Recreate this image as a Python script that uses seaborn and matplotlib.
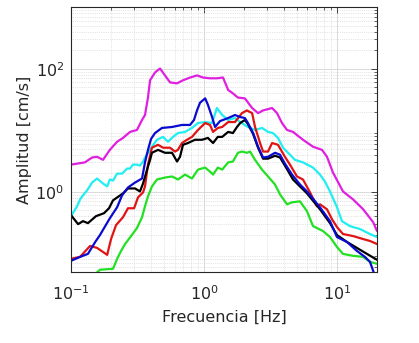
import numpy as np
import pandas as pd
import matplotlib
matplotlib.use("Agg")
import matplotlib.pyplot as plt
import seaborn as sns
from matplotlib.ticker import LogLocator, NullFormatter

# ---- data (frequency [Hz], amplitude [cm/s]) ----
mag_f = [0.100, 0.127, 0.144, 0.157, 0.174, 0.196, 0.222, 0.246, 0.278, 0.313, 0.342, 0.360,
         0.379, 0.393, 0.428, 0.467, 0.509, 0.555, 0.627, 0.695, 0.785, 0.886, 0.983, 1.11,
         1.25, 1.39, 1.52, 1.62, 1.80, 2.03, 2.30, 2.55, 2.78, 3.25, 3.54, 3.86, 4.21, 4.67,
         5.55, 6.60, 7.71, 8.41, 9.33, 11.1, 13.2, 15.7, 18.7, 20.0]
mag_a = [2.76, 3.0, 3.6, 3.7, 3.3, 4.8, 6.5, 7.5, 9.4, 10.1, 14.7, 17.7,
         34, 65, 87, 101, 78, 60, 58, 65, 72, 78, 72, 70,
         70, 72, 45, 41, 34, 33, 23, 19, 21, 23, 19, 13.1, 10.1, 9.4,
         7.0, 5.4, 4.8, 3.7, 2.05, 1.01, 0.75, 0.52, 0.32, 0.229]

cya_f = [0.100, 0.111, 0.117, 0.123, 0.132, 0.144, 0.157, 0.174, 0.187, 0.196, 0.207, 0.222,
         0.242, 0.264, 0.278, 0.292, 0.313, 0.330, 0.348, 0.360, 0.406, 0.443, 0.492, 0.536,
         0.585, 0.637, 0.720, 0.812, 0.901, 1.02, 1.15, 1.25, 1.37, 1.52, 1.71, 1.87, 2.14,
         2.42, 2.73, 3.03, 3.30, 3.60, 3.93, 4.43, 4.83, 5.55, 6.60, 7.45, 8.12, 8.86, 10.0,
         10.9, 12.5, 14.9, 17.7, 20.0]
cya_a = [0.400, 0.579, 0.751, 0.872, 1.05, 1.41, 1.64, 1.36, 1.22, 1.58, 1.52, 1.97,
         1.97, 2.38, 2.38, 2.76, 2.76, 2.66, 3.1, 3.6, 5.4, 7.0, 7.8, 6.5,
         7.8, 9.0, 9.4, 10.9, 13.1, 13.6, 13.1, 23, 17.7, 14.7, 15.8, 13.6, 11.3,
         10.1, 10.9, 9.4, 9.0, 7.5, 5.2, 4.0, 3.3, 3.0, 2.47, 1.90, 1.46, 1.01, 0.558,
         0.332, 0.276, 0.247, 0.205, 0.183]

grn_f = [0.100, 0.139, 0.165, 0.207, 0.222, 0.238, 0.255, 0.283, 0.313, 0.342, 0.360, 0.379,
         0.406, 0.443, 0.509, 0.575, 0.637, 0.720, 0.812, 0.901, 1.02, 1.11, 1.17, 1.27,
         1.37, 1.52, 1.65, 1.80, 1.93, 2.10, 2.22, 2.42, 2.73, 3.03, 3.42, 3.73, 4.21, 4.59,
         5.27, 5.95, 6.60, 7.85, 8.86, 10.0, 11.1, 13.2, 15.7, 17.7, 20.0]
grn_a = [0.032, 0.0385, 0.0538, 0.0558, 0.0809, 0.109, 0.141, 0.190, 0.256, 0.385, 0.579, 0.840,
         1.22, 1.58, 1.70, 1.77, 1.58, 1.90, 1.64, 2.29, 2.47, 2.12, 1.90, 2.47,
         2.29, 3.0, 3.1, 4.3, 4.5, 4.3, 4.5, 3.3, 2.29, 1.77, 1.31, 0.905, 0.624, 0.672,
         0.697, 0.481, 0.276, 0.229, 0.183, 0.126, 0.0974, 0.0905, 0.0872, 0.0724, 0.0672]

red_f = [0.100, 0.117, 0.139, 0.157, 0.187, 0.200, 0.218, 0.246, 0.268, 0.298, 0.319, 0.348,
         0.360, 0.379, 0.406, 0.451, 0.492, 0.555, 0.605, 0.637, 0.683, 0.745, 0.812, 0.901,
         1.02, 1.11, 1.17, 1.27, 1.37, 1.52, 1.71, 1.93, 2.10, 2.30, 2.42, 2.64, 2.78, 3.03,
         3.25, 3.60, 4.06, 4.43, 5.00, 5.55, 6.27, 7.07, 7.45, 8.41, 9.17, 10.0, 11.1, 13.2,
         15.7, 17.7, 20.0]
red_a = [0.0809, 0.0872, 0.131, 0.122, 0.0939, 0.170, 0.286, 0.385, 0.538, 0.538, 0.809, 0.974,
         1.22, 2.76, 5.2, 5.8, 5.2, 5.2, 4.5, 4.8, 6.2, 7.0, 7.8, 10.1,
         13.1, 12.2, 9.4, 10.9, 11.3, 13.6, 13.6, 19, 21, 19, 11.3, 6.2, 4.5, 4.5,
         6.2, 5.8, 3.7, 2.76, 1.77, 1.58, 0.974, 0.579, 0.624, 0.518, 0.357, 0.266, 0.205, 0.190,
         0.170, 0.158, 0.141]

blk_f = [0.100, 0.113, 0.123, 0.134, 0.154, 0.177, 0.193, 0.207, 0.246, 0.268, 0.303, 0.330,
         0.348, 0.373, 0.393, 0.406, 0.451, 0.509, 0.575, 0.627, 0.660, 0.695, 0.758, 0.856,
         0.966, 1.07, 1.17, 1.27, 1.37, 1.52, 1.65, 1.77, 1.87, 2.03, 2.14, 2.34, 2.55, 2.78,
         3.03, 3.42, 3.73, 4.06, 4.67, 5.95, 7.45, 8.86, 10.0, 11.9, 14.1, 16.8, 20.0]
blk_a = [0.415, 0.297, 0.332, 0.308, 0.400, 0.447, 0.538, 0.724, 0.939, 1.13, 1.13, 1.01,
         1.36, 2.29, 3.3, 4.3, 4.8, 4.3, 4.3, 3.1, 3.7, 5.8, 6.2, 7.0,
         7.0, 7.5, 6.2, 7.8, 7.8, 9.4, 9.0, 11.3, 13.1, 14.7, 12.6, 8.7, 5.2, 3.45,
         3.45, 3.85, 3.6, 2.66, 1.58, 0.939, 0.518, 0.308, 0.197, 0.152, 0.122, 0.0974, 0.0780]

blu_f = [0.100, 0.117, 0.134, 0.152, 0.165, 0.196, 0.222, 0.242, 0.268, 0.303, 0.342, 0.360,
         0.379, 0.400, 0.428, 0.483, 0.575, 0.683, 0.785, 0.841, 0.886, 0.933, 1.02, 1.07,
         1.15, 1.21, 1.32, 1.52, 1.71, 1.87, 2.03, 2.14, 2.34, 2.55, 2.78, 3.03, 3.42, 3.73,
         4.06, 4.59, 5.27, 5.95, 7.45, 8.86, 10.0, 11.9, 14.1, 16.2, 17.7, 18.7, 20.0]
blu_a = [0.0751, 0.0872, 0.0974, 0.152, 0.197, 0.371, 0.558, 0.872, 1.17, 1.41, 1.64, 3.0,
         4.8, 7.24, 9.0, 10.9, 11.3, 12.2, 12.2, 14.7, 21, 28, 33, 26,
         16.4, 11.3, 14.1, 15.8, 17.7, 16.4, 15.8, 13.1, 9.0, 5.4, 3.6, 3.7, 4.3, 4.0,
         2.86, 1.90, 1.31, 1.01, 0.558, 0.332, 0.183, 0.152, 0.109, 0.0872, 0.0724, 0.0518, 0.032]

series = [
    ("magenta", mag_f, mag_a, "#e020e0"),
    ("cyan", cya_f, cya_a, "#20eef0"),
    ("green", grn_f, grn_a, "#22e022"),
    ("red", red_f, red_a, "#e01414"),
    ("black", blk_f, blk_a, "#000000"),
    ("blue", blu_f, blu_a, "#0a0ad0"),
]

frames = []
for name, f, a, _ in series:
    frames.append(pd.DataFrame({"Frecuencia": f, "Amplitud": a, "serie": name}))
df = pd.concat(frames, ignore_index=True)

sns.set_style("white")
plt.rcParams["font.family"] = ["DejaVu Sans"]
plt.rcParams["mathtext.default"] = "regular"

fig = plt.figure(figsize=(4.19, 3.43), dpi=100)
ax = fig.add_axes([0.1695, 0.2079, 0.7303, 0.7708])

for name, _, _, c in series:
    sub = df[df["serie"] == name]
    sns.lineplot(data=sub, x="Frecuencia", y="Amplitud", color=c, lw=1.6,
                 sort=False, estimator=None, ax=ax, legend=False)

ax.set_xscale("log")
ax.set_yscale("log")
ax.set_xlim(0.1, 20)
ax.set_ylim(0.05, 1000)

ax.xaxis.set_minor_locator(LogLocator(base=10, subs=np.arange(2, 10), numticks=20))
ax.yaxis.set_minor_locator(LogLocator(base=10, subs=np.arange(2, 10), numticks=20))
ax.xaxis.set_minor_formatter(NullFormatter())
ax.yaxis.set_minor_formatter(NullFormatter())
ax.set_xticks([0.1, 1, 10])
ax.set_xticklabels([r"$10^{-1}$", r"$10^{0}$", r"$10^{1}$"])
ax.set_yticks([1, 100])
ax.set_yticklabels([r"$10^{0}$", r"$10^{2}$"])

ax.grid(True, which="major", color="#d4d4d4", lw=0.6, ls="-")
ax.grid(True, which="minor", color="#cccccc", lw=0.5, ls=":")
ax.set_axisbelow(True)

ax.tick_params(which="both", direction="in", top=True, right=True, colors="#262626",
               labelsize=11.5, labelcolor="#262626")
ax.tick_params(which="major", length=4, width=0.6)
ax.tick_params(axis="x", which="major", pad=9)
ax.tick_params(axis="y", which="major", pad=5)
ax.tick_params(which="minor", length=2, width=0.5)
for s in ax.spines.values():
    s.set_color("#262626")
    s.set_linewidth(0.8)

ax.set_xlabel("Frecuencia [Hz]", fontsize=11.5, color="#262626", labelpad=5)
ax.set_ylabel("Amplitud [cm/s]", fontsize=11.5, color="#262626", labelpad=2)

fig.savefig("out.png", dpi=100, facecolor="white")
